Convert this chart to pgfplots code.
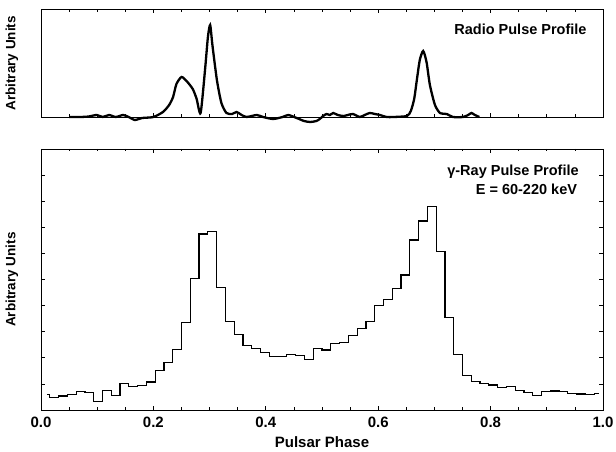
\documentclass[border=0pt]{standalone}
\usepackage{pgfplots}
\pgfplotsset{compat=1.18}
\usepackage{pgfplotstable}
\usepackage{fontspec}
\setmainfont{Liberation Sans}

\pgfplotstableread{
x y
0.011 0.60
0.015625 0.47
0.03125 0.54
0.046875 0.60
0.0625 0.70
0.078125 0.68
0.09375 0.34
0.109375 0.75
0.125 0.57
0.140625 1.00
0.15625 0.91
0.171875 0.93
0.1875 1.07
0.203125 1.51
0.21875 1.81
0.234375 2.32
0.25 3.36
0.265625 5.04
0.28125 6.74
0.296875 6.83
0.3125 4.69
0.328125 3.38
0.34375 2.90
0.359375 2.48
0.375 2.36
0.390625 2.21
0.40625 2.04
0.421875 2.04
0.4375 2.12
0.453125 2.10
0.46875 1.95
0.484375 2.36
0.5 2.30
0.515625 2.55
0.53125 2.58
0.546875 2.85
0.5625 3.13
0.578125 3.38
0.59375 4.00
0.609375 4.24
0.625 4.65
0.640625 5.17
0.65625 6.51
0.671875 7.24
0.6875 7.79
0.703125 6.07
0.71875 3.54
0.734375 2.13
0.75 1.31
0.765625 1.08
0.78125 1.00
0.796875 0.96
0.8125 0.86
0.828125 0.89
0.84375 0.74
0.859375 0.68
0.875 0.55
0.890625 0.70
0.90625 0.73
0.921875 0.70
0.9375 0.64
0.953125 0.61
0.96875 0.60
0.984375 0.64
0.992 0.64
}\gammadata

\pgfplotstableread{
x y
0.05 0
0.07 0
0.085 0.5
0.099 2
0.11 0
0.121 2
0.133 0
0.146 2
0.156 0
0.167 -3
0.18 -1
0.2 0
0.217 5
0.228 12
0.235 20
0.241 33
0.25 40
0.259 36
0.27 28
0.277 18
0.284 4
0.292 48
0.297 80
0.301 92
0.305 72
0.313 37
0.321 14
0.330 4
0.34 3
0.348 5
0.357 2
0.366 0
0.384 2
0.395 0
0.413 -2
0.43 0
0.44 2
0.455 -1
0.468 -4
0.479 -5
0.49 -4
0.496 -2
0.502 1
0.508 3
0.514 2
0.52 4
0.528 2
0.538 1
0.546 2
0.555 3
0.567 0
0.576 2
0.585 4
0.594 3
0.603 2
0.615 0
0.627 0
0.651 1
0.658 6
0.664 18
0.669 38
0.674 57
0.680 66
0.686 55
0.692 32
0.701 12
0.71 4
0.722 3
0.733 0
0.751 0
0.76 2
0.766 4
0.772 2
0.78 0
}\radiodata

\newcommand{\fs}[1]{\bfseries\fontsize{#1}{#1}\selectfont}
\pgfplotsset{
  common/.style={
    scale only axis, width=562bp,
    xmin=0, xmax=1,
    axis line style={line width=0.8bp},
    tick style={black, line width=0.7bp},
    major tick length=4bp, minor tick length=2.5bp,
    xtick={0,0.2,0.4,0.6,0.8,1.0},
    minor x tick num=3,
    every axis y label/.style={at={(axis description cs:-0.0516,0.5)}, rotate=90, anchor=center, font=\fs{13.5bp}},
  }
}

\begin{document}
\begin{tikzpicture}
\path[use as bounding box] (-41bp,-42bp) rectangle (575bp,410bp);
\begin{axis}[common,
  at={(0,0)}, anchor=south west, height=261bp,
  ymin=0, ymax=10, ytick={1,2,...,9},
  yticklabels={},
  xticklabels={\textbf{0.0},\textbf{0.2},\textbf{0.4},\textbf{0.6},\textbf{0.8},\textbf{1.0}},
  xticklabel style={font=\fs{15bp}, yshift=-4bp},
  ylabel={Arbitrary Units},
  xlabel={Pulsar Phase},
  xlabel style={at={(axis description cs:0.5,-0.1226)}, anchor=center, font=\fs{15bp}},
]
\addplot[const plot mark left, black, line width=1.2bp] table[x=x,y=y] {\gammadata};
\node[anchor=east, font=\fs{14.5bp}] at (axis description cs:0.963,0.912) {γ-Ray Pulse Profile};
\node[anchor=east, font=\fs{14.5bp}] at (axis description cs:0.960,0.847) {E = 60-220 keV};
\end{axis}
\begin{axis}[common,
  at={(0,293bp)}, anchor=south west, height=107.5bp,
  ymin=0, ymax=107.5, ytick=\empty,
  xticklabels={},
  ylabel={Arbitrary Units},
  clip=false,
]
\addplot[smooth, tension=0.4, black, line width=2.3bp] table[x=x,y=y] {\radiodata};
\node[anchor=east, font=\fs{14.5bp}] at (axis description cs:0.977,0.82) {Radio Pulse Profile};
\end{axis}
\end{tikzpicture}
\end{document}
